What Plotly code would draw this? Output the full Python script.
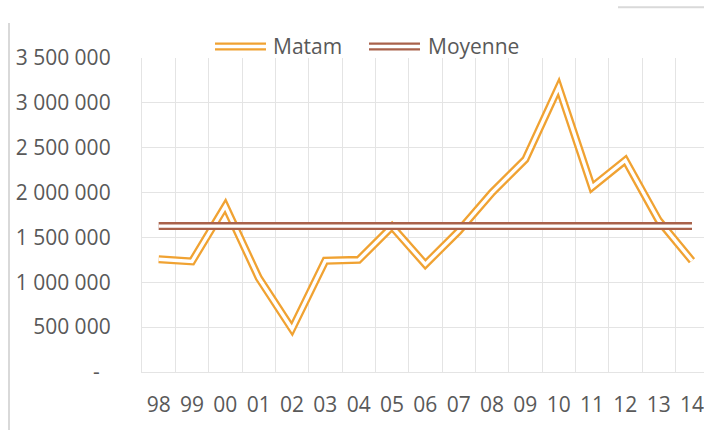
import numpy as np
import plotly.graph_objects as go

# ---- data ----
years = ["98", "99", "00", "01", "02", "03", "04", "05", "06", "07",
         "08", "09", "10", "11", "12", "13", "14"]
matam = [1256000, 1233000, 1850000, 1050000, 480000, 1240000, 1250000,
         1620000, 1200000, 1570000, 2000000, 2370000, 3175000, 2060000,
         2360000, 1690000, 1240000]
moyenne = [float(np.mean(matam))] * len(years)
ytick_vals = [0, 500000, 1000000, 1500000, 2000000, 2500000, 3000000, 3500000]
ytick_text = ["-\u00a0\u00a0", "500 000", "1 000 000", "1 500 000",
              "2 000 000", "2 500 000", "3 000 000", "3 500 000"]
series_names = ["Matam", "Moyenne"]

# ---- style ----
W, H = 704, 430
L, R, T, B = 142, 0, 58, 58
PW, PH = W - L - R, H - T - B
ORANGE = "#F0A232"
BROWN = "#A9624B"
GRID = "#E4E4E4"
TEXT = "#595959"
FONT = "Open Sans"
OUTER_W, INNER_W = 8, 3.4


def px2x(px):
    return (px - L) / PW


def py2y(py):
    return (H - B - py) / PH


fig = go.Figure()
for vals, col, name in [(matam, ORANGE, series_names[0]), (moyenne, BROWN, series_names[1])]:
    fig.add_trace(go.Scatter(x=years, y=vals, mode="lines", name=name,
                             line=dict(color=col, width=OUTER_W),
                             showlegend=False, hoverinfo="skip"))
    fig.add_trace(go.Scatter(x=years, y=vals, mode="lines", name=name,
                             line=dict(color="white", width=INNER_W),
                             showlegend=False, hoverinfo="skip"))

shapes = [
    # remnants of the outer chart frame
    dict(type="line", xref="paper", yref="paper", x0=px2x(9), x1=px2x(9),
         y0=py2y(23), y1=py2y(432), line=dict(color="#D9D9D9", width=2)),
    dict(type="line", xref="paper", yref="paper", x0=px2x(618), x1=px2x(706),
         y0=py2y(7.3), y1=py2y(7.3), line=dict(color="#D9D9D9", width=2)),
]
annotations = []
for (sx0, sx1, tx), col, name in [((215, 266, 271), ORANGE, series_names[0]),
                                  ((369, 420, 426), BROWN, series_names[1])]:
    for c, w in [(col, OUTER_W), ("white", INNER_W)]:
        shapes.append(dict(type="line", xref="paper", yref="paper",
                           x0=px2x(sx0), x1=px2x(sx1), y0=py2y(46.5), y1=py2y(46.5),
                           line=dict(color=c, width=w)))
    annotations.append(dict(text=name, xref="paper", yref="paper", x=px2x(tx),
                            y=py2y(46), xanchor="left", yanchor="middle",
                            showarrow=False, font=dict(family=FONT, size=21, color=TEXT)))

fig.update_layout(
    width=W, height=H,
    margin=dict(l=L, r=R, t=T, b=B, pad=0, autoexpand=False),
    paper_bgcolor="white", plot_bgcolor="white",
    font=dict(family=FONT, size=21, color=TEXT),
    showlegend=False,
    shapes=shapes,
    annotations=annotations,
    xaxis=dict(type="category", range=[-0.5, 16.36], tickson="boundaries",
               showgrid=True, gridcolor=GRID, gridwidth=1.3, ticks="",
               showline=True, linecolor=GRID, linewidth=1.3, automargin=False,
               ticklabelstandoff=14, fixedrange=True),
    yaxis=dict(range=[0, 3500000], tickvals=ytick_vals, ticktext=ytick_text,
               showgrid=True, gridcolor=GRID, gridwidth=1.3, zeroline=False,
               showline=True, linecolor=GRID, linewidth=1.3, ticks="", automargin=False,
               ticklabelstandoff=26, fixedrange=True),
)

post = (
    "document.body.style.margin='0';"
    "document.body.style.overflow='hidden';"
    "var st=document.createElement('style');"
    "st.textContent='path.js-line{stroke-miterlimit:10 !important;stroke-linejoin:miter !important;}';"
    "document.head.appendChild(st);"
)
fig.write_html("out.html", config={"displayModeBar": False}, post_script=post)
